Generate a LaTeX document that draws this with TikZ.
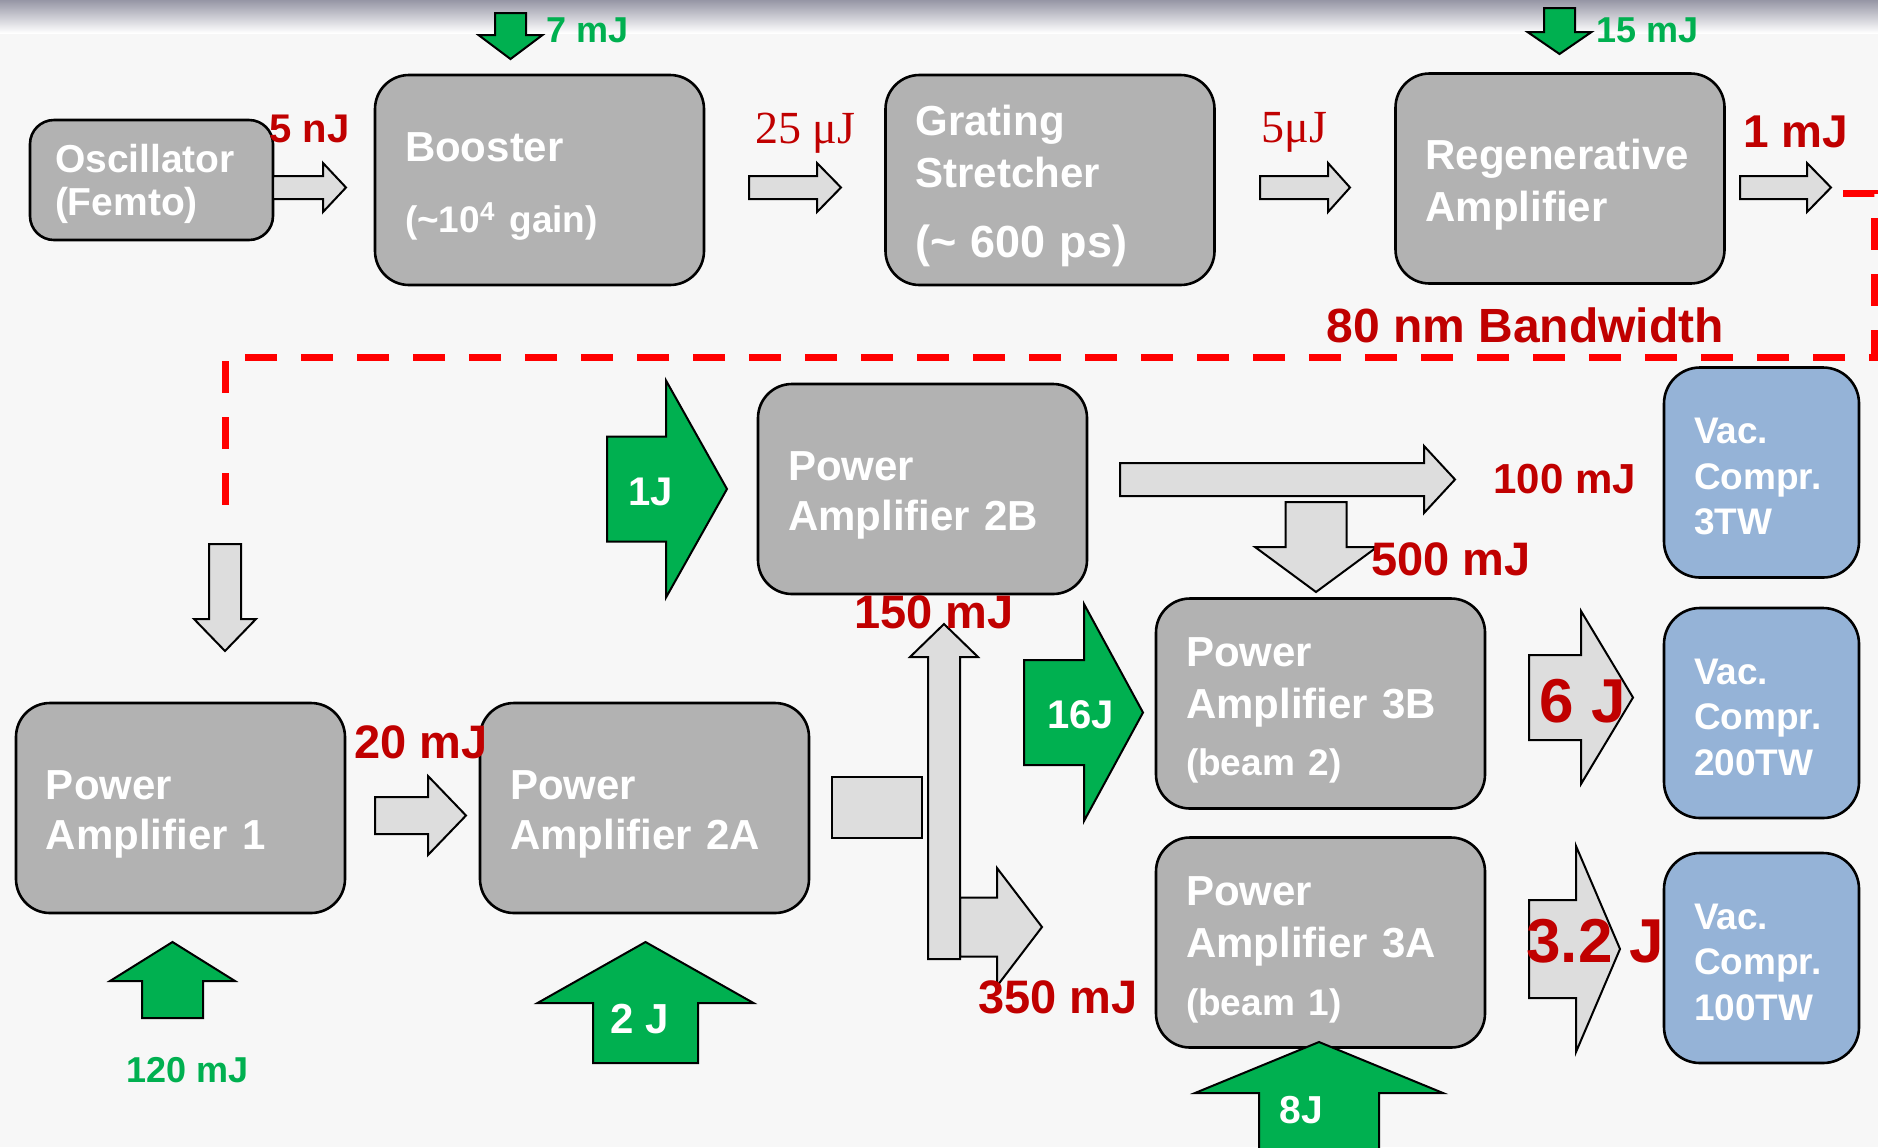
\documentclass[tikz,border=0pt]{standalone}
\usepackage{fontspec}
\setmainfont{Liberation Sans}
\newfontfamily\timesfont{Liberation Serif}

\definecolor{bggray}{HTML}{F7F7F7}
\definecolor{topgray}{RGB}{150,150,165}
\definecolor{boxgray}{HTML}{B2B2B2}
\definecolor{arrowgray}{HTML}{DDDDDD}
\definecolor{pumpgreen}{HTML}{00B050}
\definecolor{darkred}{HTML}{C00000}
\definecolor{compblue}{HTML}{95B3D7}

% block arrows: style, tail, head start, tip, centre line, shaft half, head half
\newcommand{\rarrow}[7]{%
\draw[#1] (#2,#5-#6) -- (#3,#5-#6) -- (#3,#5-#7) -- (#4,#5)
 -- (#3,#5+#7) -- (#3,#5+#6) -- (#2,#5+#6) -- cycle;}
\newcommand{\varrow}[7]{%
\draw[#1] (#5-#6,#2) -- (#5-#6,#3) -- (#5-#7,#3) -- (#5,#4)
 -- (#5+#7,#3) -- (#5+#6,#3) -- (#5+#6,#2) -- cycle;}

\begin{document}
\begin{tikzpicture}[x=0.5pt,y=-0.5pt,
textdrop/.style={execute at begin node={\vrule width 0pt height #1}},
box/.style={draw,line width=1.3pt,fill=boxgray,rounded corners=17pt,
 text=white,align=left,inner xsep=15pt,inner ysep=0pt},
ampbox/.style={box,text width=134.5pt,minimum height=105pt,textdrop=21pt,
 font=\bfseries\fontsize{21}{25}\selectfont},
compbox/.style={box,fill=compblue,rounded corners=18pt,text width=67.5pt,
 minimum height=105pt,textdrop=16.8pt,
 font=\bfseries\fontsize{18.5}{22.75}\selectfont},
grayarrow/.style={draw,line width=1pt,fill=arrowgray},
pumparrow/.style={draw,line width=1pt,fill=pumpgreen},
energy/.style={text=darkred,anchor=base west,inner sep=0pt,
 font=\bfseries\fontsize{23.5}{28}\selectfont},
pump/.style={text=pumpgreen,anchor=base west,inner sep=0pt,
 font=\bfseries\fontsize{18}{22}\selectfont},
pumpin/.style={text=white,anchor=base west,inner sep=0pt,
 font=\bfseries\fontsize{20}{24}\selectfont},
redline/.style={draw=red,line width=3.5pt,dash pattern=on 16pt off 12pt}
]

\useasboundingbox (0,0) rectangle (1878,1147);
\clip (0,0) rectangle (1878,1147);

% Background
\fill[bggray] (0,0) rectangle (1878,1147);
\shade[top color=topgray,bottom color=white] (0,0) rectangle (1878,33);

% Front end
\node[box,inner xsep=12.5pt,text width=96.5pt,minimum height=60pt,
 rounded corners=12pt,textdrop=18.4pt,
 font=\bfseries\fontsize{19.5}{21.5}\selectfont] (osc) at (151.5,180)
{Oscillator\\(Femto)};
\node[ampbox,textdrop=19.8pt] (boost) at (539.5,180)
{Booster\\[10.8pt]{\fontsize{18.5}{22}\selectfont(\textasciitilde10\textsuperscript{4} gain)}};
\node[ampbox,textdrop=21.3pt] (stretch) at (1050,180)
{Grating\\[1pt]Stretcher\\[9.7pt]{\fontsize{22.5}{26}\selectfont(\textasciitilde{} 600 ps)}};
\node[ampbox,textdrop=19.2pt] (regen) at (1560,178.5)
{Regenerative\\[1pt]Amplifier};

\foreach \a/\b/\c in {273/323/346,749/817/841,1260/1328/1350,1740/1807/1831}
{
\rarrow{grayarrow}{\a}{\b}{\c}{187.5}{11.5}{24.5}
}

\varrow{pumparrow}{13}{35}{59}{510.5}{15.5}{32}
\varrow{pumparrow}{8}{32}{54}{1559.5}{15.5}{32}

% Transfer line
\draw[redline] (1843,193) -- (1874,193) -- (1874,357) -- (225,357) -- (225,522);
\varrow{grayarrow}{544}{619}{651}{225}{16}{31}

% Power amplifiers
\node[ampbox] (pa1) at (180.5,808) {Power\\Amplifier 1};
\node[ampbox] (pa2a) at (644.5,808) {Power\\Amplifier 2A};
\node[ampbox] (pa2b) at (922.5,489) {Power\\Amplifier 2B};
\node[ampbox] (pa3b) at (1320.5,703.5)
{Power\\[1pt]Amplifier 3B\\[3.6pt]{\fontsize{18.5}{22}\selectfont(beam 2)}};
\node[ampbox,textdrop=21.8pt] (pa3a) at (1320.5,942.5)
{Power\\[1pt]Amplifier 3A\\[4pt]{\fontsize{18.5}{22}\selectfont(beam 1)}};

\rarrow{grayarrow}{375}{428}{466}{815.5}{18.5}{39.5}
\draw[grayarrow] (832,777) rectangle (922,838);
\rarrow{grayarrow}{960}{997}{1042}{927}{29.5}{59}
\varrow{grayarrow}{959}{657}{624}{944}{16}{34}
\rarrow{grayarrow}{1120}{1424}{1455}{479.5}{16.5}{33.5}
\varrow{grayarrow}{502}{547}{592}{1316}{30.5}{61}

% Pump beams
\rarrow{pumparrow}{607}{666}{727}{489}{52.5}{108.5}
\rarrow{pumparrow}{1024}{1084}{1143}{712.5}{52.5}{108.5}
\varrow{pumparrow}{1018}{981}{942}{172.5}{30.5}{62.5}
\varrow{pumparrow}{1063}{1003}{942}{645.5}{52.5}{108}
\varrow{pumparrow}{1170}{1093}{1042}{1319}{60}{124}

% Compressors
\node[compbox] (vac3) at (1761.5,472.5) {Vac.\\Compr.\\3TW};
\node[compbox] (vac200) at (1761.5,713) {Vac.\\Compr.\\200TW};
\node[compbox] (vac100) at (1761.5,958) {Vac.\\Compr.\\100TW};

\rarrow{grayarrow}{1529}{1581}{1633}{697.5}{42.5}{86.5}
\rarrow{grayarrow}{1529}{1576}{1620}{949}{49}{103}

% Energies
\node[energy,font=\bfseries\fontsize{20}{24}\selectfont] (eosc) at (269,142) {5 nJ};
\node[energy,font=\timesfont\fontsize{23}{27}\selectfont] (eboost) at (755,143) {25 μJ};
\node[energy,font=\timesfont\fontsize{23}{27}\selectfont] (estretch) at (1261,142) {5μJ};
\node[energy,font=\bfseries\fontsize{23}{28}\selectfont] (eregen) at (1743,147) {1 mJ};
\node[energy,font=\bfseries\fontsize{24}{28}\selectfont] (ebw) at (1326,342) {80 nm Bandwidth};
\node[energy] (epa1) at (354,758) {20 mJ};
\node[energy] (eup) at (854,628) {150 mJ};
\node[energy] (edown) at (978,1013) {350 mJ};
\node[energy,font=\bfseries\fontsize{21}{26}\selectfont] (e3tw) at (1493,493) {100 mJ};
\node[energy] (esplit) at (1371,575) {500 mJ};
\node[energy,font=\bfseries\fontsize{31}{36}\selectfont] (ebeam2) at (1539,722) {6 J};
\node[energy,font=\bfseries\fontsize{31}{36}\selectfont] (ebeam1) at (1526,962) {3.2 J};

\node[pump] (pboost) at (546,42) {7 mJ};
\node[pump] (pregen) at (1596,42) {15 mJ};
\node[pump] (ppa1) at (126,1082) {120 mJ};
\node[pumpin] (ppa2b) at (628,505) {1J};
\node[pumpin] (ppa3b) at (1047,728) {16J};
\node[pumpin,font=\bfseries\fontsize{21}{25}\selectfont] (ppa2a) at (610,1033) {2 J};
\node[pumpin,font=\bfseries\fontsize{19.5}{24}\selectfont] (ppa3a) at (1279,1123) {8J};

\end{tikzpicture}
\end{document}
